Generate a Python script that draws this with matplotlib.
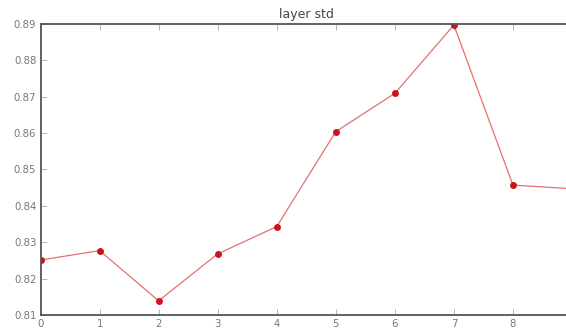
import matplotlib
matplotlib.use('Agg')
import matplotlib.pyplot as plt

layers = [0, 1, 2, 3, 4, 5, 6, 7, 8, 9]
stds = [0.8251, 0.8277, 0.8139, 0.8268, 0.8343, 0.8604, 0.8709, 0.8897, 0.8457, 0.8447]
yticks = [0.81, 0.82, 0.83, 0.84, 0.85, 0.86, 0.87, 0.88, 0.89]

fig = plt.figure(figsize=(5.66, 3.30), dpi=100)
ax = fig.add_axes([0.0716, 0.0455, 0.939, 0.882])

ax.plot(layers, stds, '-', color='#e57070', linewidth=0.9)
ax.plot(layers, stds, 'o', color='#c8141c', markersize=5, markeredgewidth=0)

ax.set_xlim(0, 9)
ax.set_ylim(0.81, 0.89)
ax.set_xticks(layers[:-1])
ax.set_yticks(yticks)
ax.set_yticklabels(['%.2f' % v for v in yticks])

for s in ax.spines.values():
    s.set_color('#555555')
    s.set_linewidth(1.3)
ax.tick_params(direction='in', top=True, right=True, length=4, width=0.6,
               color='#aaaaaa', labelsize=7.3, labelcolor='#777777', pad=3)

ax.set_title('layer std', fontsize=9, color='#444444', pad=4)

fig.savefig('out.png', dpi=100)
